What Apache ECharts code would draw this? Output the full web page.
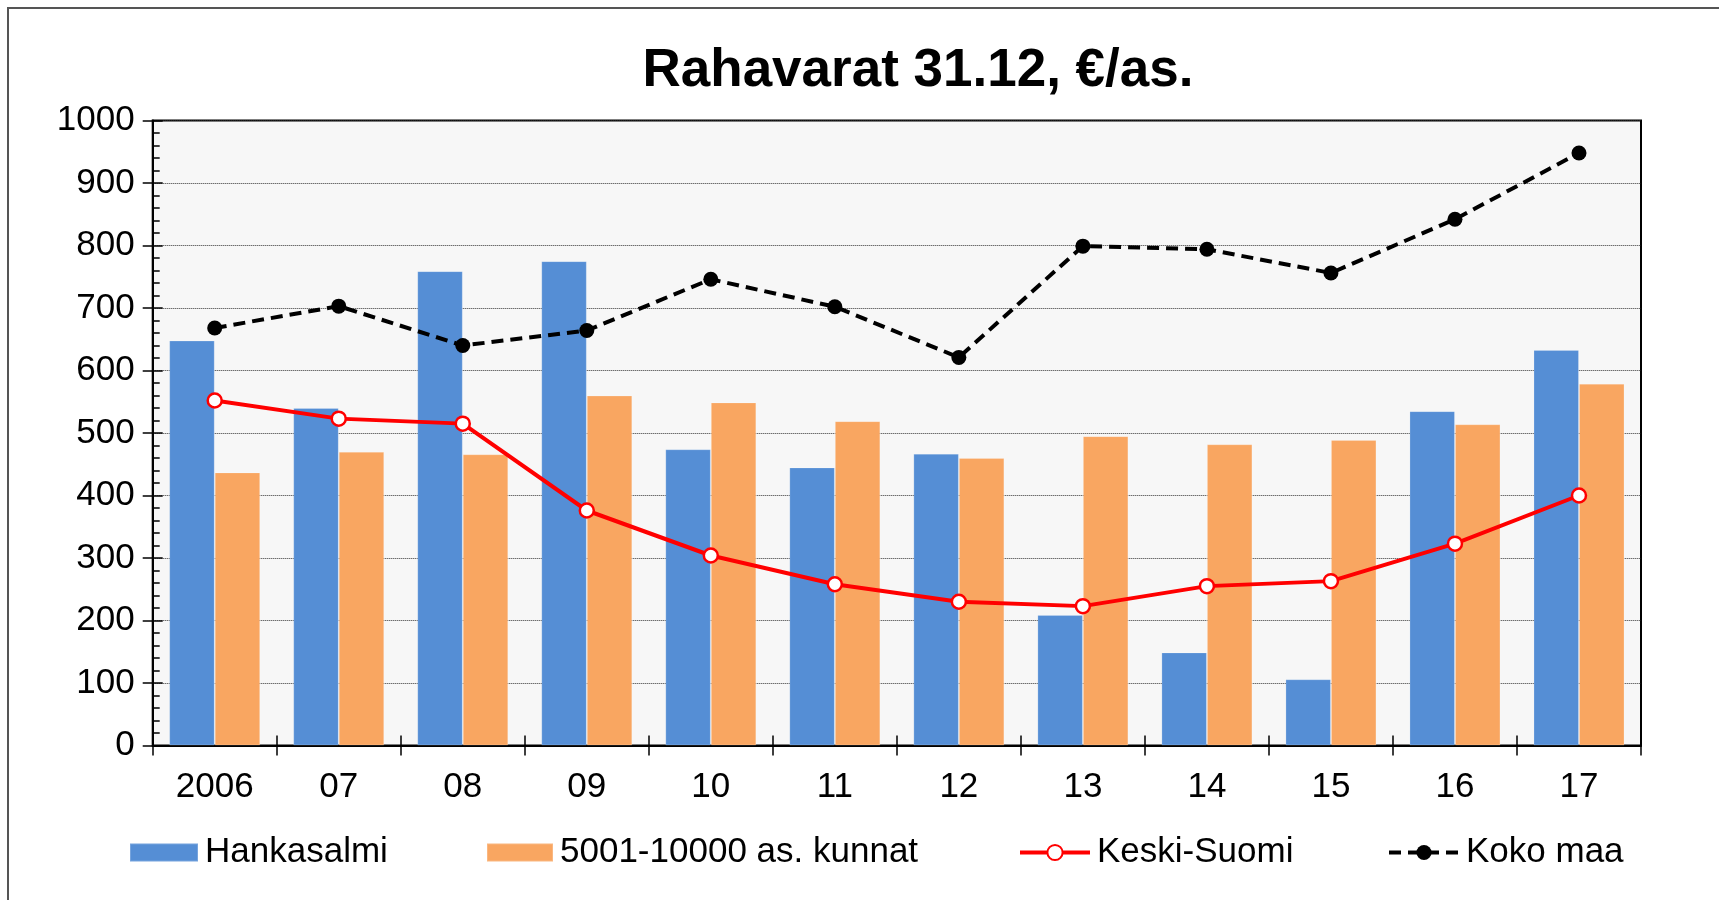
<!DOCTYPE html>
<html>
<head>
	<title>Rahavarat 31.12</title>
	<meta charset="utf-8">
	<script src="https://cdn.jsdelivr.net/npm/echarts@6/dist/echarts.min.js"></script>
	<style>
		html, body { margin: 0; padding: 0; background: #fff; }
		#chart { width: 1719px; height: 900px; }
	</style>
</head>
<body>
	<div id="chart"></div>
<script>
	// vuodet (x-akseli)
	var categories = ['2006', '07', '08', '09', '10', '11', '12', '13', '14', '15', '16', '17'];
	// €/asukas
	var hankasalmi = [648, 540, 759, 775, 474, 445, 467, 209, 149, 106, 535, 633];
	var kunnat = [437, 470, 466, 560, 549, 519, 460, 495, 482, 489, 514, 579];
	var keskiSuomi = [552, 523, 515, 376, 304, 258, 230, 223, 255, 263, 323, 400];
	var kokoMaa = [668, 703, 640, 664, 746, 702, 621, 799, 794, 756, 842, 948];
	var yMin = 0, yMax = 1000, yStep = 100;

	var font = '"Liberation Sans", Arial, sans-serif';
	var labelStyle = { color: '#000', fontSize: 35, fontFamily: font };

	function legendAt(name, left, w, h, icon) {
		var l = {
			data: [name],
			left: left,
			top: 835,
			padding: 0,
			itemWidth: w,
			itemHeight: h,
			itemGap: 0,
			selectedMode: false,
			lineStyle: { width: 'inherit', type: 'inherit' },
			textStyle: { color: '#000', fontSize: 35, fontFamily: font, padding: [0, 0, 0, 2] }
		};
		if (icon) l.icon = icon;
		return l;
	}

	var option = {
		animation: false,
		backgroundColor: '#fff',
		title: {
			text: 'Rahavarat 31.12, €/as.',
			left: 913,
			textAlign: 'center',
			top: 40,
			textStyle: { color: '#000', fontSize: 53, fontWeight: 'bold', fontFamily: font, lineHeight: 53 }
		},
		legend: [
			legendAt('Hankasalmi', 129, 68, 18, 'rect'),
			legendAt('5001-10000 as. kunnat', 486, 66, 18, 'rect'),
			legendAt('Keski-Suomi', 1018, 70, 19),
			legendAt('Koko maa', 1387, 70, 19)
		],
		grid: {
			left: 152.7, right: 78, top: 120.5, bottom: 154.5,
			show: true,
			backgroundColor: '#F7F7F7',
			borderColor: '#000',
			borderWidth: 2
		},
		xAxis: [{
			type: 'category',
			data: categories,
			boundaryGap: true,
			axisLine: { lineStyle: { color: '#000', width: 2 } },
			axisTick: { show: true, length: 10, lineStyle: { color: '#000', width: 1.5 } },
			axisLabel: Object.assign({ margin: 24 }, labelStyle),
			splitLine: { show: false }
		}, {
			type: 'category',
			data: categories,
			position: 'bottom',
			boundaryGap: true,
			axisLine: { show: false },
			axisTick: { show: true, inside: true, length: 10, lineStyle: { color: '#000', width: 1.5 } },
			axisLabel: { show: false },
			splitLine: { show: false }
		}],
		yAxis: [{
			type: 'value',
			min: yMin, max: yMax, interval: yStep,
			axisLine: { show: true, lineStyle: { color: '#000', width: 2 } },
			axisTick: { show: true, length: 10, lineStyle: { color: '#000', width: 1.5 } },
			axisLabel: Object.assign({ margin: 18, formatter: function (v) { return String(v); } }, labelStyle),
			splitLine: { show: true, lineStyle: { color: '#333', width: 1, type: [1, 1] } }
		}, {
			type: 'value',
			position: 'left',
			min: yMin, max: yMax, interval: yStep,
			axisLine: { show: false },
			axisTick: { show: true, inside: true, length: 10, lineStyle: { color: '#000', width: 1.5 } },
			minorTick: { show: true, splitNumber: 5, length: 7, lineStyle: { color: '#000', width: 1.5 } },
			axisLabel: { show: false },
			splitLine: { show: false }
		}],
		series: [{
			name: 'Hankasalmi',
			type: 'bar',
			data: hankasalmi,
			barWidth: 45.5,
			barGap: '0%',
			itemStyle: { color: '#558ED5', borderColor: 'rgba(255,255,255,0.2)', borderWidth: 1 },
			z: 2
		}, {
			name: '5001-10000 as. kunnat',
			type: 'bar',
			data: kunnat,
			barWidth: 45.5,
			barGap: '0%',
			itemStyle: { color: '#F9A661', borderColor: 'rgba(255,255,255,0.2)', borderWidth: 1 },
			z: 2
		}, {
			name: 'Keski-Suomi',
			type: 'line',
			data: keskiSuomi,
			symbol: 'circle',
			symbolSize: 14,
			lineStyle: { color: '#FF0000', width: 4 },
			itemStyle: { color: '#FFFFFF', borderColor: '#FF0000', borderWidth: 2.5 },
			z: 5
		}, {
			name: 'Koko maa',
			type: 'line',
			data: kokoMaa,
			symbol: 'circle',
			symbolSize: 15,
			lineStyle: { color: '#000', width: 4, type: [12, 7] },
			itemStyle: { color: '#000', borderColor: '#000', borderWidth: 0 },
			z: 5
		}],
		graphic: [{
			type: 'rect',
			shape: { x: 8, y: 8, width: 1760, height: 960 },
			style: { fill: 'none', stroke: '#555', lineWidth: 2 },
			silent: true,
			z: 100
		}]
	};

	var chart = echarts.init(document.getElementById('chart'));
	chart.setOption(option);
</script>
</body>
</html>
